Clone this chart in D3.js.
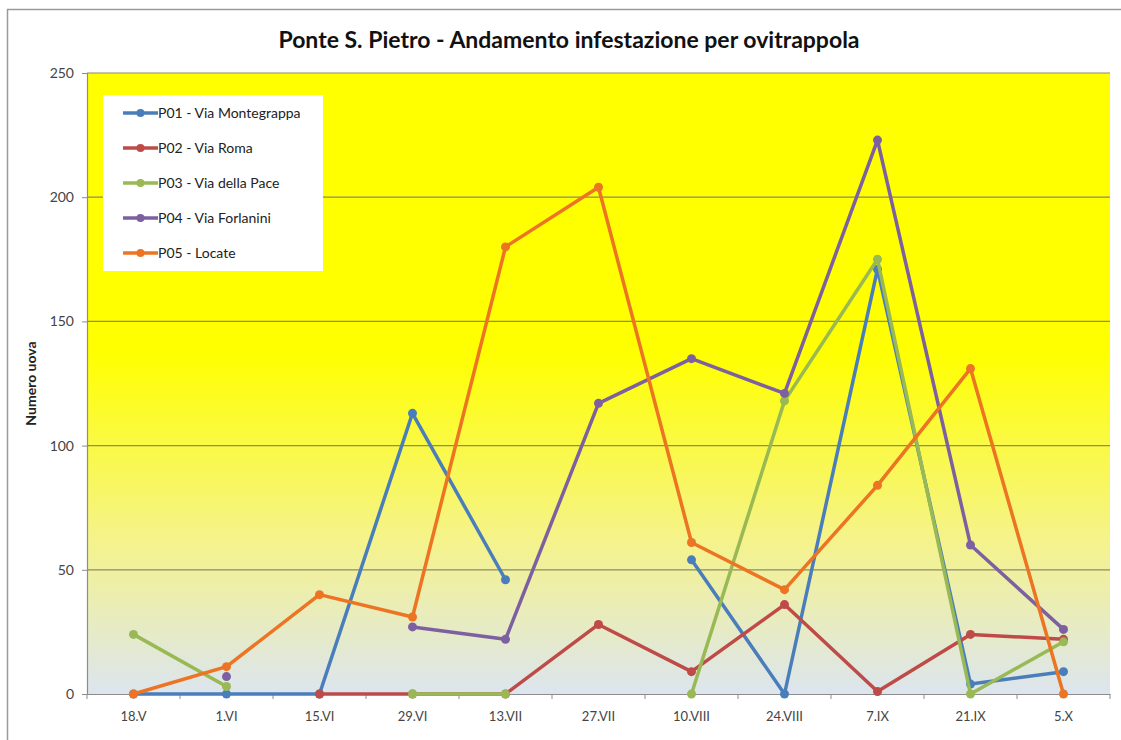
<!DOCTYPE html>
<html>
<head>
<meta charset="utf-8">
<script src="https://cdn.jsdelivr.net/npm/d3@7"></script>
<style>
  body { margin: 0; background: #fff; }
  svg { display: block; font-family: Lato, "Open Sans", sans-serif; }
</style>
</head>
<body>
<svg id="chart" width="1121" height="740"></svg>
<script>
// date labels (category axis)
var dates = ["18.V", "1.VI", "15.VI", "29.VI", "13.VII", "27.VII", "10.VIII", "24.VIII", "7.IX", "21.IX", "5.X"];

// egg counts per trap, null = no reading
var p01 = [0, 0, 0, 113, 46, null, 54, 0, 171, 4, 9];
var p02 = [null, null, 0, 0, 0, 28, 9, 36, 1, 24, 22];
var p03 = [24, 3, null, 0, 0, null, 0, 118, 175, 0, 21];
var p04 = [null, 7, null, 27, 22, 117, 135, 121, 223, 60, 26];
var p05 = [0, 11, 40, 31, 180, 204, 61, 42, 84, 131, 0];

var names = ["P01 - Via Montegrappa", "P02 - Via Roma", "P03 - Via della Pace", "P04 - Via Forlanini", "P05 - Locate"];
var colors = ["#4a7ebb", "#be4b48", "#98b954", "#7d60a0", "#ec7422"];
var yTicks = [0, 50, 100, 150, 200, 250];

var series = [p01, p02, p03, p04, p05].map(function(v, i) {
  return { name: names[i], color: colors[i], values: v };
});

var svg = d3.select("#chart");

var margin = { left: 87, right: 1110, top: 73, bottom: 694 };

var x = d3.scaleBand()
  .domain(dates)
  .range([margin.left, margin.right]);

var y = d3.scaleLinear()
  .domain([0, 250])
  .range([margin.bottom, margin.top]);

// outer chart frame
svg.append("rect")
  .attr("x", 7.5).attr("y", 9.5)
  .attr("width", 1130).attr("height", 760)
  .attr("fill", "#fff")
  .attr("stroke", "#9a9a9a")
  .attr("stroke-width", 1.5);

// plot background gradient
var grad = svg.append("defs").append("linearGradient")
  .attr("id", "bg")
  .attr("x1", 0).attr("y1", 0).attr("x2", 0).attr("y2", 1);

grad.selectAll("stop")
  .data([[0, "#ffff00"], [0.45, "#ffff00"], [0.75, "#f5f38a"], [1, "#dce5ef"]])
  .enter().append("stop")
  .attr("offset", function(d) { return d[0]; })
  .attr("stop-color", function(d) { return d[1]; });

svg.append("rect")
  .attr("x", margin.left).attr("y", margin.top)
  .attr("width", margin.right - margin.left)
  .attr("height", margin.bottom - margin.top)
  .attr("fill", "url(#bg)");

// gridlines
svg.append("g")
  .selectAll("line")
  .data(yTicks.slice(1))
  .enter().append("line")
  .attr("x1", margin.left).attr("x2", margin.right)
  .attr("y1", function(d) { return y(d); })
  .attr("y2", function(d) { return y(d); })
  .attr("stroke", "#8c8c66")
  .attr("stroke-width", 1.2);

// y axis
var yAxis = svg.append("g")
  .attr("transform", "translate(" + margin.left + ",0)")
  .call(d3.axisLeft(y).tickValues(yTicks).tickSize(5).tickPadding(8));

yAxis.select(".domain").attr("stroke", "#8c8c8c").attr("stroke-width", 1.2);
yAxis.selectAll(".tick line").attr("stroke", "#8c8c8c");
yAxis.selectAll("text").attr("font-size", 14).attr("fill", "#444")
  .attr("font-family", "Lato, 'Open Sans', sans-serif");

// x axis, ticks between categories
var xAxis = svg.append("g")
  .attr("transform", "translate(0," + margin.bottom + ")")
  .call(d3.axisBottom(x).tickSize(0).tickPadding(18));

xAxis.select(".domain").attr("stroke", "#8c8c8c").attr("stroke-width", 1.2);
xAxis.selectAll("text").attr("font-size", 13).attr("fill", "#444")
  .attr("font-family", "Lato, 'Open Sans', sans-serif");

xAxis.selectAll(".sep")
  .data(dates.concat([null]))
  .enter().append("line")
  .attr("class", "sep")
  .attr("x1", function(d, i) { return margin.left + i * x.step(); })
  .attr("x2", function(d, i) { return margin.left + i * x.step(); })
  .attr("y1", 0).attr("y2", 5)
  .attr("stroke", "#8c8c8c");

// y title
svg.append("text")
  .attr("transform", "translate(31," + ((margin.top + margin.bottom) / 2) + ") rotate(-90)")
  .attr("dy", "0.35em")
  .attr("text-anchor", "middle")
  .attr("font-size", 14)
  .attr("font-weight", "bold")
  .attr("fill", "#222")
  .text("Numero uova");

// title
svg.append("text")
  .attr("x", 569).attr("y", 48)
  .attr("text-anchor", "middle")
  .attr("font-size", 23)
  .attr("font-weight", "bold")
  .attr("fill", "#111")
  .text("Ponte S. Pietro - Andamento infestazione per ovitrappola");

var cx = function(i) { return x(dates[i]) + x.bandwidth() / 2; };

var line = d3.line()
  .defined(function(d) { return d != null; })
  .x(function(d, i) { return cx(i); })
  .y(function(d) { return y(d); });

var g = svg.selectAll(".series")
  .data(series)
  .enter().append("g")
  .attr("class", "series");

g.append("path")
  .attr("d", function(s) { return line(s.values); })
  .attr("fill", "none")
  .attr("stroke", function(s) { return s.color; })
  .attr("stroke-width", 3.5)
  .attr("stroke-linejoin", "round");

g.selectAll("circle")
  .data(function(s) {
    return s.values.map(function(v, i) { return { v: v, i: i, c: s.color }; })
      .filter(function(d) { return d.v != null; });
  })
  .enter().append("circle")
  .attr("cx", function(d) { return cx(d.i); })
  .attr("cy", function(d) { return y(d.v); })
  .attr("r", 4.5)
  .attr("fill", function(d) { return d.c; });

// legend
var legend = svg.append("g");

legend.append("rect")
  .attr("x", 103).attr("y", 95)
  .attr("width", 220).attr("height", 176)
  .attr("fill", "#fff");

var item = legend.selectAll(".item")
  .data(series)
  .enter().append("g")
  .attr("class", "item")
  .attr("transform", function(d, i) { return "translate(123," + (113 + i * 35) + ")"; });

item.append("line")
  .attr("x1", 0).attr("x2", 35)
  .attr("stroke", function(d) { return d.color; })
  .attr("stroke-width", 3.5);

item.append("circle")
  .attr("cx", 17.5).attr("r", 4)
  .attr("fill", function(d) { return d.color; });

item.append("text")
  .attr("x", 35).attr("dy", "0.35em")
  .attr("font-size", 14)
  .attr("fill", "#222")
  .text(function(d) { return d.name; });
</script>
</body>
</html>
